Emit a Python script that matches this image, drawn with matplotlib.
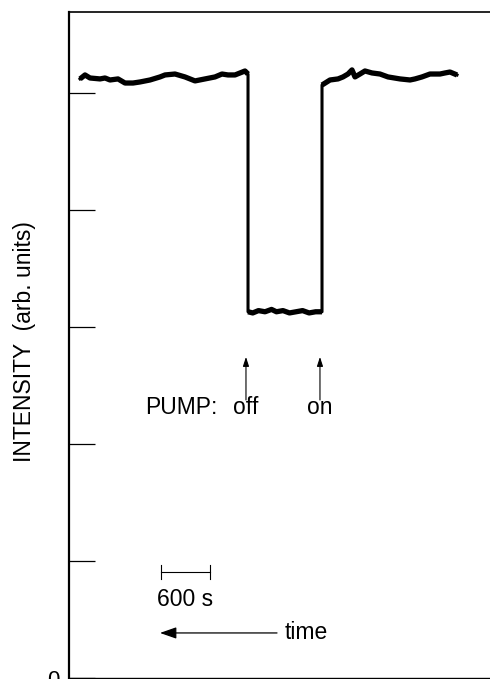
import numpy as np
import matplotlib.pyplot as plt

plt.rcParams['font.family'] = ['Liberation Sans', 'DejaVu Sans']

# trace: time (s) and intensity (arb. units)
t_before = [135, 196, 257, 380, 441, 502, 600, 686, 784, 869, 992, 1114, 1176,
            1298, 1420, 1543, 1665, 1788, 1873, 1947, 2033, 2094, 2155, 2192]
i_before = [5.120, 5.154, 5.128, 5.120, 5.128, 5.111, 5.120, 5.085, 5.085, 5.094,
            5.111, 5.137, 5.154, 5.162, 5.137, 5.103, 5.120, 5.137, 5.162, 5.154,
            5.154, 5.171, 5.188, 5.162]
t_low = [2192, 2250, 2320, 2400, 2480, 2540, 2620, 2700, 2780, 2860, 2940, 3020, 3098]
i_low = [3.13, 3.12, 3.14, 3.13, 3.15, 3.13, 3.14, 3.12, 3.13, 3.14, 3.12, 3.13, 3.13]
t_after = [3098, 3196, 3294, 3355, 3416, 3465, 3502, 3563, 3624, 3710, 3808, 3906,
           4053, 4176, 4237, 4322, 4420, 4543, 4604, 4665, 4751]
i_after = [5.068, 5.111, 5.120, 5.137, 5.162, 5.197, 5.137, 5.162, 5.188, 5.171,
           5.162, 5.137, 5.120, 5.111, 5.120, 5.137, 5.162, 5.162, 5.171, 5.179, 5.154]

yticks = [0, 1, 2, 3, 4, 5]
ytick_labels = ['0', '', '', '', '', '']

pump_times = [2167, 3073]
pump_labels = ['off', 'on']
scale_bar = [1127, 1727]   # 600 s

fig = plt.figure(figsize=[4.9, 6.79], dpi=100)
ax = fig.add_axes([69 / 490, 1 / 679, 1 - 69 / 490, 666 / 679])

t_all = t_before + t_low + t_after
i_all = i_before + i_low + i_after
ax.plot(t_all, i_all, color='black', lw=2.2)
# the flat parts look thicker (noise)
for tt, ii in [(t_before, i_before), (t_low, i_low), (t_after, i_after)]:
    ax.plot(tt, ii, color='black', lw=3.8, solid_capstyle='butt')

ax.set_xlim(0, 5155)
ax.set_ylim(0, 5.692)
ax.set_xticks([])
ax.set_yticks(yticks)
ax.set_yticklabels(ytick_labels, fontsize=16)
ax.tick_params(axis='y', direction='in', length=19, width=0.9, pad=7)

ax.spines['right'].set_visible(False)
ax.spines['left'].set_linewidth(1.6)
ax.spines['top'].set_linewidth(1.2)
ax.spines['bottom'].set_linewidth(1.0)

fig.text(25 / 490, 1 - 342 / 679, 'INTENSITY  (arb. units)', rotation=90,
         ha='center', va='center', fontsize=16.5)

# pump arrows and labels
for tp, lab in zip(pump_times, pump_labels):
    ax.annotate('', xy=(tp, 2.744), xytext=(tp, 2.376),
                arrowprops=dict(arrowstyle='-|>,head_length=0.55,head_width=0.18',
                                color='black', lw=0.8, shrinkA=0, shrinkB=0))
    ax.text(tp - 6, 2.316, lab, ha='center', va='center', fontsize=16.5)
ax.text(1824, 2.316, 'PUMP:', ha='right', va='center', fontsize=16.5)

# 600 s scale bar
ax.plot(scale_bar, [0.906, 0.906], color='black', lw=0.8)
for xb in scale_bar:
    ax.plot([xb, xb], [0.846, 0.966], color='black', lw=0.8)
ax.text(np.mean(scale_bar), 0.675, '600 s', ha='center', va='center', fontsize=16.5)

# time direction arrow
ax.annotate('', xy=(1114, 0.385), xytext=(2547, 0.385),
            arrowprops=dict(arrowstyle='-|>,head_length=1.0,head_width=0.35',
                            color='black', lw=0.9, shrinkA=0, shrinkB=0))
ax.text(2645, 0.385, 'time', ha='left', va='center', fontsize=16.5)

plt.savefig('out.png', dpi=100)
